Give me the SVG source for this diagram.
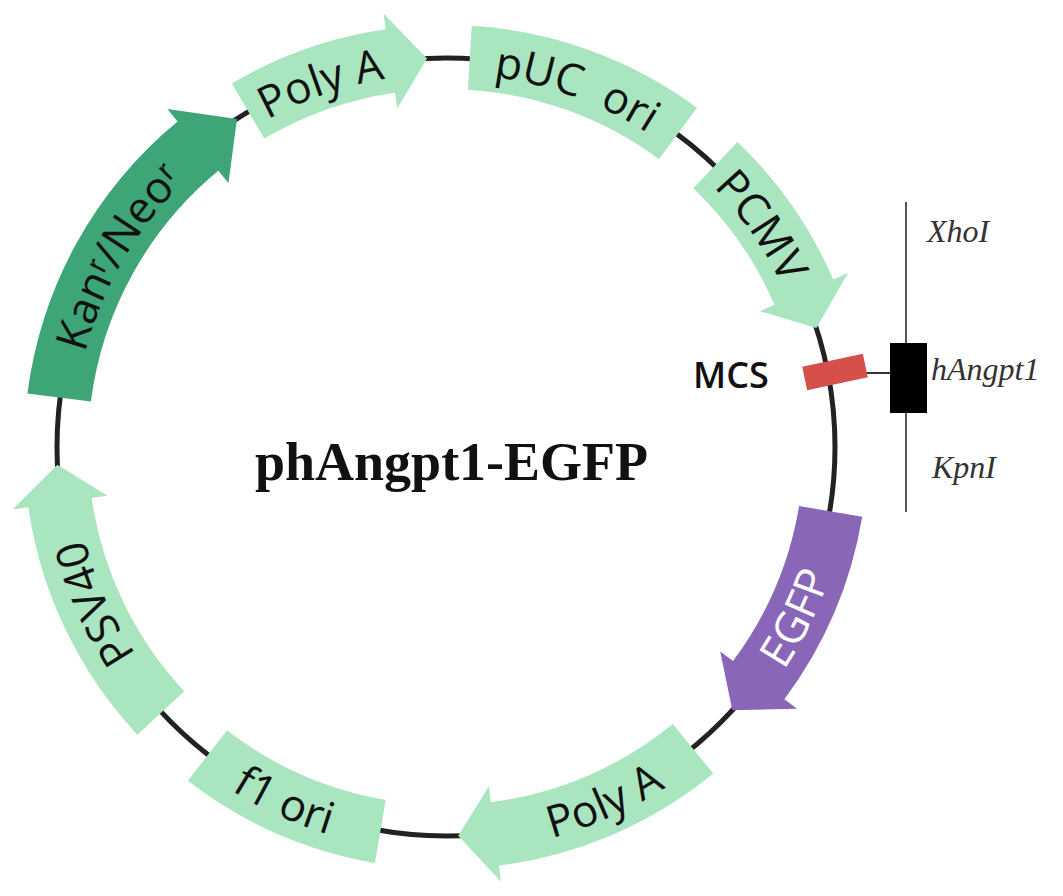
<svg xmlns="http://www.w3.org/2000/svg" width="1063" height="896" viewBox="0 0 1063 896">
<style>
.lg{fill:#a9e6bf}
.dg{fill:#3da576}
.pu{fill:#8a66b9}
.lbl{font-family:"Open Sans","Liberation Sans",sans-serif;font-size:44px;fill:#111}
.wlbl{font-family:"Open Sans","Liberation Sans",sans-serif;font-size:44px;fill:#ffffff}
.site{font-family:"Liberation Serif","Times New Roman",serif;font-style:italic;font-size:32px;fill:#333}
.bb{fill:none;stroke:#222;stroke-width:5}
</style>
<defs>
<path id="pKan" d="M74.42,479.51 A373,373 0 0 1 288.36,108.95"/>
<path id="pPolyT" d="M144.24,227.75 A373,373 0 0 1 548.81,88.45"/>
<path id="pPUC" d="M349.46,86.71 A373,373 0 0 1 751.54,233.05"/>
<path id="pCMV" d="M573.57,96.50 A373,373 0 0 1 819,447"/>
<path id="pSV" d="M253.89,766.72 A373,373 0 0 1 79.85,375.83"/>
<path id="pEGFP" d="M642.35,801.22 A405,405 0 0 0 846.01,383.65"/>
<path id="pPolyB" d="M368.72,844.56 A405,405 0 0 0 793.15,655.59"/>
<path id="pF1" d="M97.04,652.55 A405,405 0 0 0 519.81,845.22"/>
</defs>
<g id="backbone">
<circle class="bb" cx="446" cy="447" r="389"/>
</g>
<g id="connectors">
<line x1="864" y1="373" x2="892" y2="373" stroke="#333" stroke-width="2"/>
<line x1="906" y1="202" x2="906" y2="512" stroke="#555" stroke-width="2"/>
</g>
<g id="kan">
<path class="dg" d="M27.42,393.38 A422,422 0 0 1 177.57,121.38 L167.40,109.03 L236.99,118.92 L228.46,183.11 L218.28,170.76 A358,358 0 0 0 90.90,401.51 Z"/>
<text class="lbl"><textPath href="#pKan" startOffset="50%" text-anchor="middle">Kanʳ/Neoʳ</textPath></text>
</g>
<g id="polyA-top">
<path class="lg" d="M231.82,83.39 A422,422 0 0 1 385.81,29.31 L383.53,13.48 L427.00,58.46 L397.22,108.50 L394.94,92.66 A358,358 0 0 0 264.30,138.54 Z"/>
<text class="lbl"><textPath href="#pPolyT" startOffset="50%" text-anchor="middle">Poly A</textPath></text>
</g>
<g id="puc-ori">
<path class="lg" d="M471.76,25.79 A422,422 0 0 1 697.01,107.77 L658.95,159.22 A358,358 0 0 0 467.86,89.67 Z"/>
<text class="lbl"><textPath href="#pPUC" startOffset="50%" text-anchor="middle" xml:space="preserve">pUC  ori</textPath></text>
</g>
<g id="pcmv">
<path class="lg" d="M737.55,141.91 A422,422 0 0 1 833.29,279.40 L847.97,273.05 L816.38,328.08 L759.87,311.17 L774.55,304.82 A358,358 0 0 0 693.34,188.18 Z"/>
<text class="lbl"><textPath href="#pCMV" startOffset="50%" text-anchor="middle">PCMV</textPath></text>
</g>
<g id="egfp">
<path class="pu" d="M862.21,516.65 A422,422 0 0 1 784.35,699.20 L797.18,708.76 L732.34,710.31 L720.21,651.39 L733.04,660.95 A358,358 0 0 0 799.09,506.09 Z"/>
<text class="wlbl"><textPath href="#pEGFP" startOffset="50%" text-anchor="middle">EGFP</textPath></text>
</g>
<g id="polyA-bottom">
<path class="lg" d="M713.29,773.56 A422,422 0 0 1 498.89,865.67 L500.89,881.54 L458.22,835.81 L488.86,786.30 L490.87,802.18 A358,358 0 0 0 672.75,724.03 Z"/>
<text class="lbl"><textPath href="#pPolyB" startOffset="50%" text-anchor="middle">Poly A</textPath></text>
</g>
<g id="f1-ori">
<path class="lg" d="M374.90,862.97 A422,422 0 0 1 187.84,780.82 L226.99,730.20 A358,358 0 0 0 385.68,799.88 Z"/>
<text class="lbl"><textPath href="#pF1" startOffset="50%" text-anchor="middle">f1 ori</textPath></text>
</g>
<g id="psv40">
<path class="lg" d="M137.37,734.80 A422,422 0 0 1 28.31,507.19 L12.48,509.47 L57.40,464.65 L107.50,495.78 L91.66,498.06 A358,358 0 0 0 184.18,691.16 Z"/>
<text class="lbl"><textPath href="#pSV" startOffset="50%" text-anchor="middle">PSV40</textPath></text>
</g>
<g id="mcs">
<rect x="-31" y="-12" width="62" height="24" fill="#d5504b" transform="translate(835,372) rotate(-12)"/>
<text x="693" y="388" font-family="'Open Sans','Liberation Sans',sans-serif" font-size="36" font-weight="600" fill="#111">MCS</text>
</g>
<g id="hangpt1">
<rect x="890" y="343" width="37" height="70" fill="#000"/>
<text class="site" x="931" y="380" font-size="35">hAngpt1</text>
</g>
<g id="xhoi">
<text class="site" x="927" y="242">XhoI</text>
</g>
<g id="kpni">
<text class="site" x="932" y="478" font-size="33">KpnI</text>
</g>
<g id="title">
<text x="255" y="480" font-family="'Liberation Serif','Times New Roman',serif" font-weight="bold" font-size="54" fill="#111">phAngpt1-EGFP</text>
</g>
</svg>
